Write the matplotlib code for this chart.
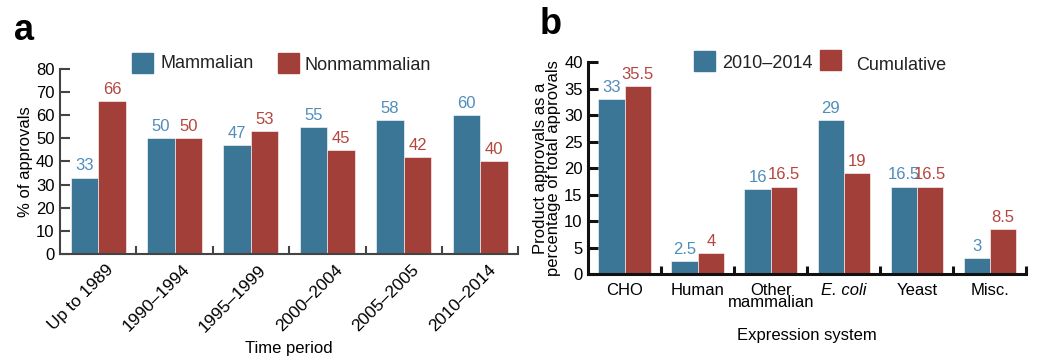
import matplotlib
matplotlib.use('Agg')
import matplotlib.pyplot as plt
import numpy as np

plt.rcParams['font.family'] = ['Liberation Sans', 'DejaVu Sans']

# panel a
periods = ['Up to 1989', '1990–1994', '1995–1999', '2000–2004', '2005–2005', '2010–2014']
mammalian = [33, 50, 47, 55, 58, 60]
nonmammalian = [66, 50, 53, 45, 42, 40]

# panel b
systems = ['CHO', 'Human', 'Other\nmammalian', 'E. coli', 'Yeast', 'Misc.']
recent = [33, 2.5, 16, 29, 16.5, 3]
cumulative = [35.5, 4, 16.5, 19, 16.5, 8.5]
recent_lbl = ['33', '2.5', '16', '29', '16.5', '3']
cumul_lbl = ['35.5', '4', '16.5', '19', '16.5', '8.5']

BLUE = '#3c7696'
RED = '#a33f39'
BLUE_T = '#4f8dba'
RED_T = '#b4463f'

fig = plt.figure(figsize=(10.56, 3.58), dpi=100)
axa = fig.add_axes([0.0568, 0.2905, 0.434, 0.517])
axb = fig.add_axes([0.557, 0.2346, 0.415, 0.592])

w = 0.36
fs = 12

def draw(ax, cats, s1, s2, l1, l2, spine_col, lw):
    x = np.arange(len(cats))
    ax.bar(x - w / 2, s1, w, color=BLUE, edgecolor='white', linewidth=0.4)
    ax.bar(x + w / 2, s2, w, color=RED, edgecolor='white', linewidth=0.4)
    for i in range(len(cats)):
        ax.annotate(l1[i], (x[i] - w / 2, s1[i]), xytext=(0, 3), textcoords='offset points',
                    ha='center', va='bottom', color=BLUE_T, fontsize=fs)
        ax.annotate(l2[i], (x[i] + w / 2, s2[i]), xytext=(0, 3), textcoords='offset points',
                    ha='center', va='bottom', color=RED_T, fontsize=fs)
    ax.set_xlim(-0.5, len(cats) - 0.5)
    for s in ['top', 'right']:
        ax.spines[s].set_visible(False)
    for s in ['left', 'bottom']:
        ax.spines[s].set_color(spine_col)
        ax.spines[s].set_linewidth(lw)
    ax.set_xticks(np.arange(len(cats)) + 0.5)
    ax.set_xticklabels([])
    ax.tick_params(axis='x', direction='in', length=6, width=lw, color=spine_col)
    ax.tick_params(axis='y', direction='in', length=7, width=lw, color=spine_col,
                   labelsize=fs, pad=4)
    return x

x = draw(axa, periods, mammalian, nonmammalian,
         [str(v) for v in mammalian], [str(v) for v in nonmammalian], '#444444', 1.5)
axa.set_ylim(0, 80)
axa.set_yticks(range(0, 81, 10))
for i, lab in enumerate(periods):
    axa.text(x[i] + 0.1, -3.5, lab, rotation=45, ha='right', va='top',
             fontsize=fs + 0.5, rotation_mode='anchor', transform=axa.transData)
axa.set_ylabel('% of approvals', fontsize=fs, labelpad=2)
axa.text(0.5, -0.51, 'Time period', transform=axa.transAxes, ha='center', va='center', fontsize=fs)

x = draw(axb, systems, recent, cumulative, recent_lbl, cumul_lbl, '#111111', 2.2)
axb.set_ylim(0, 40)
axb.set_yticks(range(0, 41, 5))
for i, lab in enumerate(systems):
    axb.text(x[i], -1.7, lab, ha='center', va='top', fontsize=fs, linespacing=0.75,
             style='italic' if lab == 'E. coli' else 'normal')
axb.set_ylabel('Product approvals as a\npercentage of total approvals', fontsize=fs,
               labelpad=2, linespacing=0.85)
axb.text(0.5, -0.29, 'Expression system', transform=axb.transAxes, ha='center', va='center', fontsize=fs)

# legends
def legend_sq(x0, y0, col):
    fig.patches.append(plt.Rectangle((x0 / 1056, 1 - y0 / 358 - 20 / 358), 21 / 1056, 20 / 358,
                                     transform=fig.transFigure, color=col))

legend_sq(132, 53, BLUE)
fig.text(160 / 1056, 1 - 64 / 358, 'Mammalian', fontsize=fs + 1, va='center', color='#222222')
legend_sq(278, 53, RED)
fig.text(305 / 1056, 1 - 65 / 358, 'Nonmammalian', fontsize=fs + 1, va='center', color='#222222')
legend_sq(694, 51, BLUE)
fig.text(722 / 1056, 1 - 63 / 358, '2010–2014', fontsize=fs + 1, va='center', color='#222222')
legend_sq(820, 50, RED)
fig.text(856 / 1056, 1 - 66 / 358, 'Cumulative', fontsize=fs + 1, va='center', color='#222222')

fig.text(14 / 1056, 1 - 31 / 358, 'a', fontsize=26, fontweight='bold', va='center')
fig.text(540 / 1056, 1 - 25 / 358, 'b', fontsize=26, fontweight='bold', va='center')

fig.savefig('out.png', dpi=100)
